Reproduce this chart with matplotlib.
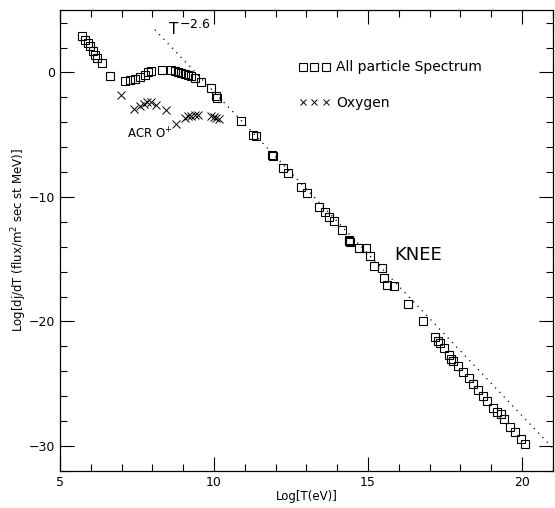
#!/usr/bin/env python
# coding: utf-8

import matplotlib
matplotlib.use("Agg")
import matplotlib.pyplot as plt
from matplotlib.ticker import MultipleLocator

# All particle spectrum: log10(T/eV), log10(dj/dT)
all_x = [5.70, 5.81, 5.92, 5.97, 6.08, 6.13, 6.19, 6.35, 6.62,
         7.11, 7.27, 7.43, 7.59, 7.76, 7.86, 7.97, 8.30, 8.62, 8.73,
         8.84, 8.94, 9.05, 9.16, 9.27, 9.38, 9.59, 9.92, 10.08, 10.09,
         10.89, 11.27, 11.38, 11.89, 11.93, 12.24, 12.40, 12.83, 13.02,
         13.41, 13.59, 13.72, 13.91, 14.16, 14.38, 14.40, 14.42, 14.72,
         14.94, 15.05, 15.21, 15.46, 15.53, 15.61, 15.86, 16.29, 16.78,
         17.19, 17.26, 17.35, 17.48, 17.64, 17.70, 17.77, 17.93, 18.10,
         18.27, 18.40, 18.56, 18.72, 18.85, 19.05, 19.18, 19.32, 19.42,
         19.61, 19.78, 19.96, 20.11]
all_y = [2.89, 2.62, 2.35, 2.09, 1.74, 1.42, 1.15, 0.75, -0.32,
         -0.72, -0.59, -0.51, -0.40, -0.19, 0.00, 0.13, 0.16, 0.16, 0.08,
         0.03, -0.05, -0.13, -0.19, -0.32, -0.45, -0.78, -1.26, -1.87, -2.06,
         -3.88, -5.00, -5.14, -6.61, -6.70, -7.68, -8.08, -9.23, -9.69,
         -10.83, -11.24, -11.61, -11.90, -12.62, -13.45, -13.56, -13.65, -14.10,
         -14.10, -14.77, -15.57, -15.70, -16.50, -17.04, -17.12, -18.57, -19.98,
         -21.27, -21.53, -21.72, -22.12, -22.66, -22.98, -23.14, -23.60, -24.05,
         -24.53, -25.00, -25.52, -26.00, -26.40, -26.94, -27.26, -27.43, -27.82,
         -28.47, -28.87, -29.40, -29.83]

# Oxygen (ACR O+)
oxy_x = [6.97, 7.40, 7.59, 7.72, 7.83, 7.97, 8.13, 8.44, 8.76, 9.05,
         9.16, 9.27, 9.38, 9.48, 9.92, 9.99, 10.08, 10.16]
oxy_y = [-1.85, -2.94, -2.73, -2.54, -2.41, -2.38, -2.59, -3.00, -4.12, -3.67,
         -3.53, -3.48, -3.40, -3.45, -3.48, -3.59, -3.67, -3.72]

# T^-2.6 reference power law (in log-log: y = a - 2.6 x)
law_index = -2.6
law_a = 24.44
law_x = [8.08, 21.0]

fig = plt.figure(figsize=(5.55, 5.08), dpi=100)
ax = fig.add_axes([0.108, 0.073, 0.888, 0.907])

ax.plot(law_x, [law_a + law_index * x for x in law_x], ls=(0, (1, 4)),
        color="black", lw=0.9)
ax.plot(all_x, all_y, ls="none", marker="s", ms=6.4, mfc="none",
        mec="black", mew=0.8, label="All particle Spectrum")
ax.plot(oxy_x, oxy_y, ls="none", marker="x", ms=6.0, color="black",
        mew=0.7, label="Oxygen")

ax.legend(loc="upper left", bbox_to_anchor=(0.46, 0.918), numpoints=3,
          frameon=False, markerscale=0.8, handlelength=2.2,
          handletextpad=0.45, labelspacing=1.55, fontsize=10)

ax.text(8.55, 3.45, "T", fontsize=11, ha="left", va="center")
ax.text(8.86, 3.85, "$-$2.6", fontsize=9, ha="left", va="center")
ax.text(7.92, -4.98, "ACR O$^{+}$", fontsize=8.5, ha="center", va="center")
ax.text(16.62, -14.7, "KNEE", fontsize=13, ha="center", va="center")

ax.set_xlim(5, 21)
ax.set_ylim(-32, 5)
ax.xaxis.set_major_locator(MultipleLocator(5))
ax.xaxis.set_minor_locator(MultipleLocator(1))
ax.yaxis.set_major_locator(MultipleLocator(10))
ax.yaxis.set_minor_locator(MultipleLocator(2))
ax.tick_params(which="both", direction="in", top=True, right=True,
               labelsize=9, width=0.8)
ax.tick_params(which="major", length=10)
ax.tick_params(which="minor", length=5)
for s in ax.spines.values():
    s.set_linewidth(0.9)

ax.set_xlabel("Log[T(eV)]", fontsize=8.5, labelpad=1)
ax.set_ylabel("Log[dj/dT (flux/m$^2$ sec st MeV)]", fontsize=8.5, labelpad=0)

fig.savefig("out.png", dpi=100)
